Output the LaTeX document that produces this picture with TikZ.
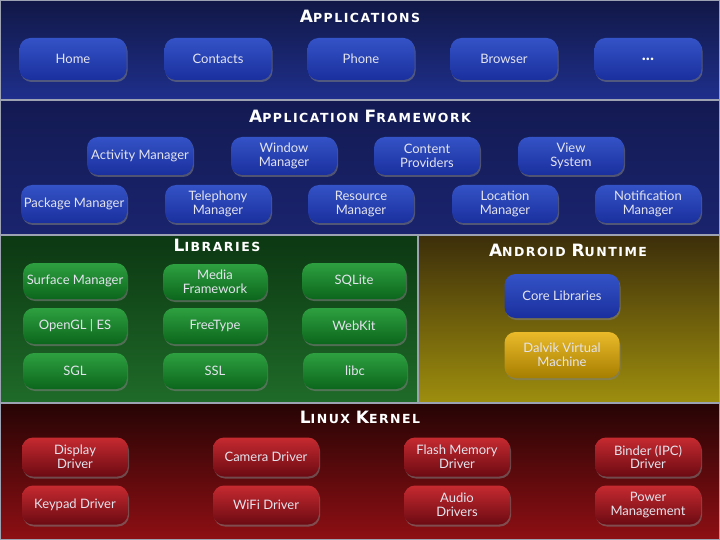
\documentclass[tikz,border=0pt]{standalone}
\usepackage{fontspec}
\setmainfont{Lato}
\newfontfamily\titlefont[LetterSpace=12]{DejaVu Sans}
\usepackage{tikz}
\usetikzlibrary{shadows}
\usetikzlibrary{backgrounds}
\definecolor{appbgtop}{HTML}{111846}
\definecolor{appbgbot}{HTML}{1F2F8C}
\definecolor{fwbgtop}{HTML}{131A52}
\definecolor{fwbgbot}{HTML}{1A246E}
\definecolor{libbgtop}{HTML}{0C3712}
\definecolor{libbgbot}{HTML}{1F6B29}
\definecolor{rtbgtop}{HTML}{3C2E0A}
\definecolor{rtbgbot}{HTML}{9E8E0E}
\definecolor{knbgtop}{HTML}{260404}
\definecolor{knbgbot}{HTML}{8E0F14}
\definecolor{bluetop}{HTML}{3453C6}
\definecolor{bluebot}{HTML}{1A2F9E}
\definecolor{greentop}{HTML}{2EA040}
\definecolor{greenbot}{HTML}{0B661C}
\definecolor{redtop}{HTML}{C62A30}
\definecolor{redbot}{HTML}{6C0A12}
\definecolor{goldtop}{HTML}{EABA2A}
\definecolor{goldbot}{HTML}{A67E00}
\definecolor{layerline}{HTML}{9CA2B2}
\definecolor{boxtext}{HTML}{E4E4EE}
\newcommand\capl[1]{{\fontsize{17}{17}\selectfont #1}}
\tikzstyle{block}=[rounded corners=11pt,minimum width=106pt,minimum height=38pt,align=center,
  text=boxtext,font=\fontsize{13}{13.5}\selectfont,inner sep=2pt,
  drop shadow={opacity=0.55,shadow xshift=1pt,shadow yshift=-2pt}]
\tikzstyle{bluebox}=[block,top color=bluetop,bottom color=bluebot]
\tikzstyle{greenbox}=[block,top color=greentop,bottom color=greenbot,minimum width=104pt,minimum height=36pt]
\tikzstyle{redbox}=[block,top color=redtop,bottom color=redbot,minimum height=39pt]
\tikzstyle{goldbox}=[block,top color=goldtop,bottom color=goldbot]
\tikzstyle{layertitle}=[text=white,font=\titlefont\bfseries\fontsize{12.5}{13}\selectfont,inner sep=0pt]
\tikzstyle{layer}=[draw=layerline,line width=1.5pt]

\begin{document}
\begin{tikzpicture}[x=1pt,y=-1pt]
\useasboundingbox (0,0) rectangle (720,540);
% layers
\path[layer,top color=appbgtop,bottom color=appbgbot] (0,0) rectangle (720,100);
\path[layer,top color=fwbgtop,bottom color=fwbgbot] (0,100) rectangle (720,235);
\path[layer,top color=libbgtop,bottom color=libbgbot] (0,235) rectangle (418,403);
\path[layer,top color=rtbgtop,bottom color=rtbgbot] (418,235) rectangle (720,403);
\path[layer,top color=knbgtop,bottom color=knbgbot] (0,403) rectangle (720,540);

% applications
\node[layertitle] (appstitle) at (360,16) {\capl{A}PPLICATIONS};
\node[bluebox,minimum width=107pt,minimum height=42pt] (home) at (73,59) {Home};
\node[bluebox,minimum width=107pt,minimum height=42pt] (contacts) at (218,59) {Contacts};
\node[bluebox,minimum width=107pt,minimum height=42pt] (phone) at (361,59) {Phone};
\node[bluebox,minimum width=107pt,minimum height=42pt] (browser) at (504,59) {Browser};
\node[bluebox,minimum width=107pt,minimum height=42pt,text=white,font=\bfseries\fontsize{17}{17}\selectfont] (more) at (648,59) {...};

% application framework
\node[layertitle] (fwtitle) at (360,116) {\capl{A}PPLICATION \capl{F}RAMEWORK};
\node[bluebox] (actmgr) at (140,156) {Activity Manager};
\node[bluebox] (winmgr) at (284,156) {Window\\Manager};
\node[bluebox] (content) at (427,156) {Content\\Providers};
\node[bluebox] (viewsys) at (571,156) {View\\System};
\node[bluebox] (pkgmgr) at (74,204) {Package Manager};
\node[bluebox] (telmgr) at (218,204) {Telephony\\Manager};
\node[bluebox] (resmgr) at (361,204) {Resource\\Manager};
\node[bluebox] (locmgr) at (505,204) {Location\\Manager};
\node[bluebox] (notmgr) at (648,204) {Notification\\Manager};

% libraries
\node[layertitle] (libtitle) at (217,245) {\capl{L}IBRARIES};
\node[greenbox] (surface) at (75,281) {Surface Manager};
\node[greenbox] (media) at (215,282) {Media\\Framework};
\node[greenbox] (sqlite) at (354,281) {SQLite};
\node[greenbox] (opengl) at (75,326) {OpenGL | ES};
\node[greenbox] (freetype) at (215,326) {FreeType};
\node[greenbox] (webkit) at (354,326) {WebKit};
\node[greenbox] (sgl) at (75,371) {SGL};
\node[greenbox] (ssl) at (215,371) {SSL};
\node[greenbox] (libc) at (355,371) {libc};

% android runtime
\node[layertitle] (rttitle) at (568,250) {\capl{A}NDROID \capl{R}UNTIME};
\node[bluebox,minimum width=115pt,minimum height=44pt] (corelib) at (562,296) {Core Libraries};
\node[goldbox,minimum width=115pt,minimum height=46pt] (dalvik) at (562,355) {Dalvik Virtual\\Machine};

% linux kernel
\node[layertitle] (kntitle) at (360,417) {\capl{L}INUX \capl{K}ERNEL};
\node[redbox] (display) at (75,457) {Display\\Driver};
\node[redbox] (camera) at (266,457) {Camera Driver};
\node[redbox] (flash) at (457,457) {Flash Memory\\Driver};
\node[redbox] (binder) at (648,457) {Binder (IPC)\\Driver};
\node[redbox] (keypad) at (75,505) {Keypad Driver};
\node[redbox] (wifi) at (266,505) {WiFi Driver};
\node[redbox] (audio) at (457,505) {Audio\\Drivers};
\node[redbox] (power) at (648,505) {Power\\Management};
\end{tikzpicture}
\end{document}
